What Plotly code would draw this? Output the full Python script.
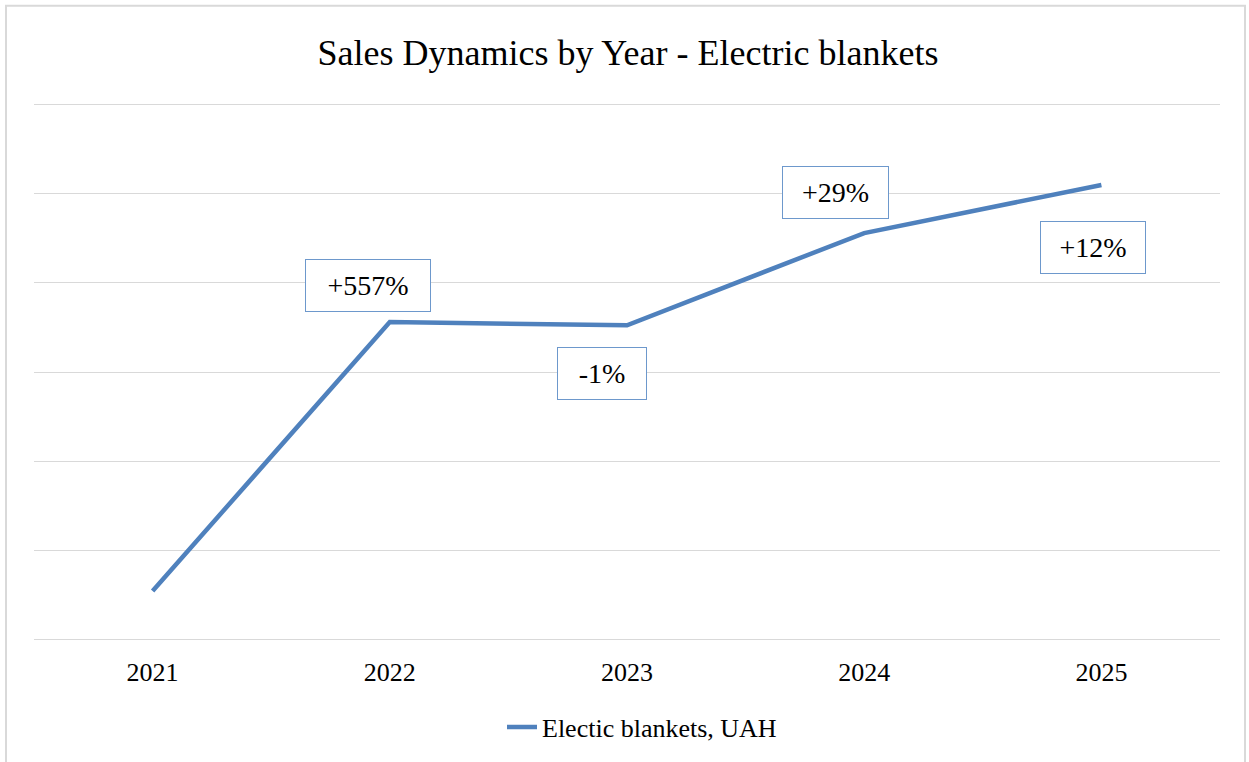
import plotly.graph_objects as go

# Annual sales of electric blankets (millions of UAH)
years = ["2021", "2022", "2023", "2024", "2025"]
sales = [0.542, 3.56, 3.525, 4.56, 5.10]

series_name = "Electic blankets, UAH"
title_text = "Sales Dynamics by Year - Electric blankets"

# Year-over-year change labels, derived from the series itself
changes = []
for i in range(1, len(sales)):
    pct = round((sales[i] / sales[i - 1] - 1) * 100)
    changes.append(("+" if pct > 0 else "") + f"{pct}%")

# Label box placement relative to each point (pixels) and box size
label_shift_x = [-22, -25, -29, -8]
label_shift_y = [37, -48, 41, -63]
label_width = [120, 84, 101, 100]

FONT = "Liberation Serif, Times New Roman, serif"
BLUE = "#4f81bd"

fig = go.Figure()
fig.add_trace(go.Scatter(
    x=years, y=sales, mode="lines", name=series_name,
    line=dict(color=BLUE, width=4.5),
))

for i, txt in enumerate(changes):
    fig.add_annotation(
        x=i + 1, y=sales[i + 1], xref="x", yref="y",
        text=txt, showarrow=False,
        xshift=label_shift_x[i], yshift=label_shift_y[i],
        font=dict(family=FONT, size=28, color="#000000"),
        bordercolor="#6d98cc", borderwidth=1, borderpad=2,
        width=label_width[i], height=47, bgcolor="#ffffff",
    )

# Outer chart frame
fig.add_shape(
    type="rect", xref="paper", yref="paper",
    x0=-28 / 1186, x1=1211 / 1186, y0=-160 / 536, y1=633 / 536,
    line=dict(color="#d9d9d9", width=2), fillcolor="rgba(0,0,0,0)",
)

fig.update_layout(
    width=1249, height=762,
    margin=dict(l=34, r=29, t=103, b=121, autoexpand=False),
    paper_bgcolor="#ffffff", plot_bgcolor="#ffffff",
    font=dict(family=FONT, color="#000000"),
    title=dict(
        text=title_text, x=628 / 1249, xanchor="center",
        y=1 - 52 / 762, yanchor="middle", yref="container",
        font=dict(family=FONT, size=36, color="#000000"),
    ),
    showlegend=True,
    legend=dict(
        orientation="h", x=0.5 + 15 / 1186, xanchor="center",
        yref="container", y=1 - 727 / 762, yanchor="middle",
        font=dict(family=FONT, size=26, color="#000000"),
        bgcolor="rgba(0,0,0,0)",
    ),
    xaxis=dict(
        type="category", range=[-0.5, 4.5], showgrid=False, zeroline=False,
        showline=False, ticks="", ticklabelstandoff=13,
        tickfont=dict(family=FONT, size=26, color="#000000"),
    ),
    yaxis=dict(
        range=[-0.02, 6.02], dtick=1, showgrid=True, gridcolor="#d9d9d9",
        gridwidth=1, zeroline=False, showline=False, showticklabels=False,
        ticks="",
    ),
)

fig.write_html("out.html")
